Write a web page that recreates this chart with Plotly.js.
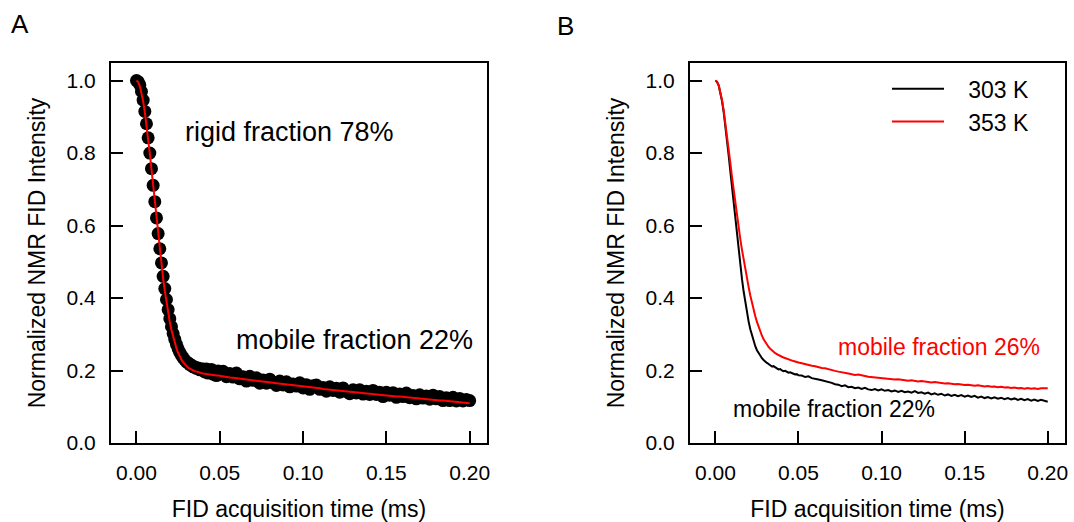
<!DOCTYPE html>
<html>
<head>
<meta charset="utf-8">
<script src="https://cdn.plot.ly/plotly-3.0.1.min.js"></script>
<style>html,body{margin:0;padding:0;background:#fff;}#chart{width:1074px;height:522px;}</style>
</head>
<body>
<div id="chart"></div>
<script>
// FID acquisition time (ms)
var time = [
 0.000,0.001,0.002,0.003,0.004,0.005,0.006,0.007,0.008,0.009,
 0.010,0.011,0.012,0.013,0.014,0.015,0.016,0.017,0.018,0.019,
 0.020,0.021,0.022,0.023,0.024,0.025,0.026,0.027,0.028,0.029,
 0.030,0.031,0.032,0.033,0.034,0.035,0.036,0.037,0.038,0.039,
 0.040,0.041,0.042,0.043,0.044,0.045,0.046,0.047,0.048,0.049,
 0.050,0.052,0.054,0.056,0.058,0.060,0.062,0.064,0.066,0.068,
 0.070,0.072,0.074,0.076,0.078,0.080,0.082,0.084,0.086,0.088,
 0.090,0.092,0.094,0.096,0.098,0.100,0.102,0.104,0.106,0.108,
 0.110,0.112,0.114,0.116,0.118,0.120,0.122,0.124,0.126,0.128,
 0.130,0.132,0.134,0.136,0.138,0.140,0.142,0.144,0.146,0.148,
 0.150,0.152,0.154,0.156,0.158,0.160,0.162,0.164,0.166,0.168,
 0.170,0.172,0.174,0.176,0.178,0.180,0.182,0.184,0.186,0.188,
 0.190,0.192,0.194,0.196,0.198,0.200
];

// Panel A: measured FID (markers)
var measuredA = [
 1.000,0.997,0.988,0.970,0.946,0.915,0.881,0.842,0.800,0.757,
 0.711,0.666,0.621,0.578,0.536,0.497,0.460,0.426,0.396,0.368,
 0.343,0.321,0.302,0.286,0.272,0.260,0.250,0.242,0.235,0.229,
 0.224,0.221,0.216,0.215,0.210,0.210,0.206,0.207,0.202,0.204,
 0.204,0.196,0.204,0.193,0.199,0.203,0.190,0.198,0.186,0.199,
 0.191,0.198,0.183,0.192,0.182,0.193,0.177,0.183,0.171,0.184,
 0.173,0.180,0.165,0.174,0.165,0.176,0.166,0.159,0.171,0.160,
 0.169,0.155,0.163,0.157,0.166,0.152,0.161,0.148,0.158,0.160,
 0.148,0.153,0.143,0.155,0.145,0.151,0.140,0.152,0.142,0.136,
 0.147,0.138,0.147,0.135,0.143,0.134,0.145,0.134,0.140,0.128,
 0.140,0.132,0.139,0.126,0.135,0.128,0.138,0.125,0.131,0.122,
 0.133,0.124,0.130,0.121,0.132,0.122,0.128,0.117,0.125,0.117,
 0.126,0.116,0.123,0.116,0.120,0.117
];

// Panel A: two-component fit (red line)
var fitA = [
 1.000,0.996,0.985,0.967,0.943,0.913,0.879,0.840,0.799,0.755,
 0.710,0.664,0.619,0.575,0.532,0.492,0.454,0.420,0.388,0.360,
 0.334,0.312,0.292,0.275,0.261,0.249,0.238,0.230,0.223,0.217,
 0.212,0.208,0.205,0.202,0.200,0.198,0.197,0.195,0.194,0.193,
 0.192,0.191,0.190,0.190,0.189,0.188,0.188,0.187,0.186,0.186,
 0.185,0.184,0.183,0.181,0.180,0.179,0.178,0.176,0.175,0.174,
 0.173,0.172,0.170,0.169,0.168,0.167,0.166,0.165,0.164,0.162,
 0.161,0.160,0.159,0.158,0.157,0.156,0.155,0.154,0.153,0.152,
 0.151,0.149,0.148,0.147,0.146,0.145,0.144,0.143,0.142,0.141,
 0.140,0.140,0.139,0.138,0.137,0.136,0.135,0.134,0.133,0.132,
 0.131,0.130,0.129,0.128,0.128,0.127,0.126,0.125,0.124,0.123,
 0.122,0.122,0.121,0.120,0.119,0.118,0.117,0.117,0.116,0.115,
 0.114,0.113,0.113,0.112,0.111,0.110
];

// Panel B: 303 K
var fid303 = [
 1.000,0.996,0.986,0.968,0.943,0.912,0.876,0.836,0.793,0.749,
 0.704,0.659,0.614,0.570,0.528,0.489,0.452,0.418,0.388,0.360,
 0.335,0.314,0.296,0.280,0.267,0.256,0.248,0.240,0.234,0.229,
 0.224,0.221,0.218,0.215,0.211,0.212,0.208,0.206,0.203,0.204,
 0.200,0.198,0.199,0.196,0.194,0.195,0.192,0.191,0.189,0.190,
 0.187,0.186,0.182,0.184,0.179,0.178,0.175,0.173,0.171,0.167,
 0.166,0.162,0.161,0.157,0.159,0.154,0.155,0.151,0.153,0.149,
 0.152,0.148,0.146,0.149,0.145,0.148,0.144,0.146,0.142,0.145,
 0.141,0.144,0.140,0.142,0.139,0.143,0.138,0.140,0.136,0.139,
 0.134,0.137,0.133,0.136,0.131,0.134,0.130,0.133,0.129,0.132,
 0.128,0.131,0.127,0.130,0.125,0.128,0.124,0.127,0.123,0.126,
 0.122,0.125,0.121,0.124,0.120,0.123,0.119,0.122,0.118,0.121,
 0.117,0.120,0.116,0.119,0.117,0.114
];

// Panel B: 353 K
var fid353 = [
 1.000,0.997,0.987,0.970,0.946,0.917,0.884,0.848,0.810,0.772,
 0.734,0.697,0.661,0.626,0.593,0.562,0.533,0.505,0.479,0.454,
 0.430,0.407,0.386,0.367,0.350,0.334,0.320,0.307,0.296,0.286,
 0.278,0.271,0.265,0.260,0.255,0.251,0.248,0.245,0.242,0.240,
 0.238,0.236,0.234,0.232,0.231,0.229,0.228,0.226,0.225,0.223,
 0.222,0.220,0.217,0.216,0.213,0.212,0.209,0.207,0.206,0.203,
 0.202,0.199,0.197,0.196,0.193,0.192,0.190,0.188,0.189,0.186,
 0.185,0.183,0.182,0.181,0.180,0.178,0.179,0.177,0.176,0.175,
 0.176,0.174,0.173,0.172,0.173,0.171,0.170,0.171,0.169,0.168,
 0.167,0.168,0.166,0.165,0.164,0.165,0.163,0.162,0.163,0.161,
 0.160,0.161,0.159,0.158,0.159,0.157,0.156,0.157,0.155,0.156,
 0.154,0.155,0.153,0.154,0.152,0.153,0.151,0.152,0.150,0.152,
 0.150,0.151,0.149,0.151,0.150,0.151
];

var xTicks = [0, 0.05, 0.10, 0.15, 0.20];
var xTickText = ["0.00", "0.05", "0.10", "0.15", "0.20"];
var yTicks = [0, 0.2, 0.4, 0.6, 0.8, 1.0];
var yTickText = ["0.0", "0.2", "0.4", "0.6", "0.8", "1.0"];
var seriesNames = ["303 K", "353 K"];

var FONT = "Liberation Sans, Arial, Helvetica, sans-serif";
var PAD = "\u00a0\u00a0\u00a0";

var traces = [
  {x: time, y: measuredA, xaxis: "x", yaxis: "y", type: "scatter", mode: "markers",
   marker: {color: "#000000", size: 13, line: {width: 0}}, showlegend: false, name: "data"},
  {x: time, y: fitA, xaxis: "x", yaxis: "y", type: "scatter", mode: "lines",
   line: {color: "#ff0000", width: 2}, showlegend: false, name: "fit"},
  {x: time, y: fid303, xaxis: "x2", yaxis: "y2", type: "scatter", mode: "lines",
   line: {color: "#000000", width: 2}, name: PAD + seriesNames[0]},
  {x: time, y: fid353, xaxis: "x2", yaxis: "y2", type: "scatter", mode: "lines",
   line: {color: "#ff0000", width: 2}, name: PAD + seriesNames[1]}
];

function xAxis(domain, anchor) {
  return {
    domain: domain, anchor: anchor, range: [-0.0153, 0.2104],
    tickmode: "array", tickvals: xTicks, ticktext: xTickText,
    ticks: "inside", ticklen: 12, tickwidth: 2, tickcolor: "#000",
    showline: true, mirror: true, linewidth: 2, linecolor: "#000",
    showgrid: false, zeroline: false, automargin: false,
    ticklabelstandoff: 10,
    tickfont: {family: FONT, size: 21, color: "#000"},
    title: {text: "FID acquisition time (ms)", font: {family: FONT, size: 23, color: "#000"}, standoff: 21}
  };
}
function yAxis(anchor) {
  return {
    domain: [0, 1], anchor: anchor, range: [0, 1.0486],
    tickmode: "array", tickvals: yTicks, ticktext: yTickText,
    ticks: "inside", ticklen: 12, tickwidth: 2, tickcolor: "#000",
    showline: true, mirror: true, linewidth: 2, linecolor: "#000",
    showgrid: false, zeroline: false, automargin: false,
    ticklabelstandoff: 9,
    tickfont: {family: FONT, size: 21, color: "#000"},
    title: {text: "Normalized NMR FID Intensity", font: {family: FONT, size: 23, color: "#000"}, standoff: 15}
  };
}

var layout = {
  width: 1074, height: 522,
  margin: {l: 111, r: 9, t: 63, b: 79},
  paper_bgcolor: "#ffffff", plot_bgcolor: "#ffffff",
  font: {family: FONT, color: "#000"},
  xaxis: xAxis([0, 0.3941], "y"),
  yaxis: yAxis("x"),
  xaxis2: xAxis([0.6069, 1], "y2"),
  yaxis2: yAxis("x2"),
  showlegend: true,
  legend: {
    x: 0.8134, y: 0.989, xanchor: "left", yanchor: "top",
    xref: "paper", yref: "paper",
    bgcolor: "rgba(0,0,0,0)", borderwidth: 0,
    itemwidth: 52,
    font: {family: FONT, size: 23, color: "#000"}
  },
  annotations: [
    {text: "A", xref: "paper", yref: "paper", x: -0.0954, y: 1.1018, xanchor: "center", yanchor: "middle",
     showarrow: false, font: {family: FONT, size: 26, color: "#000"}},
    {text: "B", xref: "paper", yref: "paper", x: 0.4764, y: 1.097, xanchor: "center", yanchor: "middle",
     showarrow: false, font: {family: FONT, size: 26, color: "#000"}},
    {text: "rigid fraction 78%", xref: "x", yref: "y", x: 0.0281, y: 0.858, xanchor: "left", yanchor: "middle",
     showarrow: false, font: {family: FONT, size: 27, color: "#000"}},
    {text: "mobile fraction 22%", xref: "x", yref: "y", x: 0.1309, y: 0.283, xanchor: "center", yanchor: "middle",
     showarrow: false, font: {family: FONT, size: 27, color: "#000"}},
    {text: "mobile fraction 26%", xref: "x2", yref: "y2", x: 0.1346, y: 0.264, xanchor: "center", yanchor: "middle",
     showarrow: false, font: {family: FONT, size: 23, color: "#ff0000"}},
    {text: "mobile fraction 22%", xref: "x2", yref: "y2", x: 0.0713, y: 0.094, xanchor: "center", yanchor: "middle",
     showarrow: false, font: {family: FONT, size: 23, color: "#000"}}
  ]
};

Plotly.newPlot("chart", traces, layout, {displayModeBar: false, staticPlot: true});
</script>
</body>
</html>
